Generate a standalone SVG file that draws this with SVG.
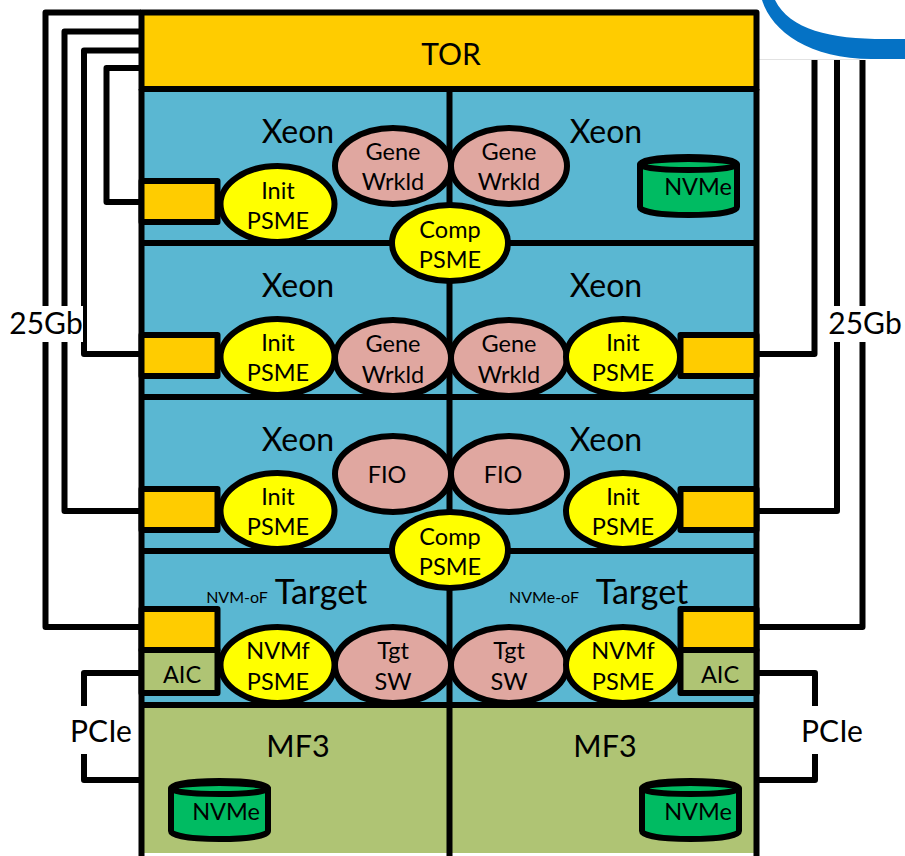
<svg xmlns="http://www.w3.org/2000/svg" width="905" height="856" viewBox="0 0 905 856">
<style>
text{font-family:"Lato","Carlito","Open Sans",sans-serif;fill:#000;text-anchor:middle}
.big{font-size:32px}
.tg{font-size:34px}
.mf{font-size:30.500px}
.mid{font-size:23.500px}
.sm{font-size:16px}
.lbl{font-size:30px}
.s{stroke:#000;stroke-width:6;stroke-linejoin:round}
.wire{fill:none;stroke:#000;stroke-width:6;stroke-linejoin:round}
.psme{fill:#ffff00}
.wl{fill:#e0a7a0}
.sq{fill:#ffcc00}
.aic{fill:#afc474}
.xeon{fill:#5ab7d2}
.nv{fill:#00bb62}
</style>
<defs>
<g id="cyl">
<path class="s nv" d="M0 7.500C0 3 22 0 48.500 0S97 3 97 7.500V50C97 55 75 58 48.500 58S0 55 0 50Z"/>
<ellipse class="s nv" cx="48.500" cy="7.500" rx="48.500" ry="5.500"/>
</g>
</defs>
<rect width="905" height="856" fill="#fff"/>
<g id="logo">
<path d="M762 0C772 32 810 59 872 59H905V39H885C830 39 790 30 775 0Z" fill="#0572c5"/>
<path d="M757 59.500H860" stroke="#e2e2e2" stroke-width="1" fill="none"/>
</g>
<g id="connectors">
<path class="wire" d="M141 12.500H45.500V627H141"/>
<path class="wire" d="M141 31.500H64.500V511H141"/>
<path class="wire" d="M141 50.500H84V354H141"/>
<path class="wire" d="M141 68H106.500V202H141"/>
<path class="wire" d="M757 354H814.500V60"/>
<path class="wire" d="M757 511H837V60"/>
<path class="wire" d="M757 627H862.500V60"/>
<path class="wire" d="M141 673H84V780H141"/>
<path class="wire" d="M757 673H815V780H757"/>
</g>
<g id="frame">
<rect id="xeon-bg" class="xeon" x="141.500" y="89" width="615" height="462"/>
<rect class="xeon" x="141.500" y="551" width="615" height="154"/>
<rect class="aic" x="141.500" y="705" width="615" height="148"/>
<rect class="s sq" x="141.500" y="12.500" width="615" height="76.500"/>
<path class="wire" d="M141.500 89V856M756.500 89V856M141.500 243H756.500M141.500 397H756.500M141.500 551H756.500M141.500 705H756.500M449.500 89V856"/>
</g>
<g id="tor"><text class="lbl" x="451" y="64.500">TOR</text></g>
<g id="labels">
<text class="big" x="298" y="143">Xeon</text>
<text class="big" x="606" y="143">Xeon</text>
<text class="big" x="298" y="297">Xeon</text>
<text class="big" x="606" y="297">Xeon</text>
<text class="big" x="298" y="451">Xeon</text>
<text class="big" x="606" y="451">Xeon</text>
<text class="tg" x="321" y="604">Target</text>
<text class="tg" x="642" y="604">Target</text>
<text class="sm" x="237" y="603">NVM-oF</text>
<text class="sm" x="544" y="603">NVMe-oF</text>
<text class="mf" x="298" y="757">MF3</text>
<text class="mf" x="605" y="757">MF3</text>
</g>
<g id="label-25gb-l"><rect x="10" y="306" width="73" height="36" fill="#fff"/><text class="lbl" x="46" y="334">25Gb</text></g>
<g id="label-25gb-r"><rect x="828" y="306" width="74" height="36" fill="#fff"/><text class="lbl" x="865" y="334">25Gb</text></g>
<g id="label-pcie-l"><rect x="70" y="706" width="64" height="48" fill="#fff"/><text class="lbl" x="101" y="742">PCIe</text></g>
<g id="label-pcie-r"><rect x="800" y="706" width="64" height="48" fill="#fff"/><text class="lbl" x="832" y="742">PCIe</text></g>
<g id="port-1"><rect class="s sq" x="141.500" y="181" width="76" height="41"/></g>
<g id="port-2"><rect class="s sq" x="141.500" y="335" width="76" height="41"/></g>
<g id="port-3"><rect class="s sq" x="141.500" y="489" width="76" height="41"/></g>
<g id="port-4"><rect class="s sq" x="141.500" y="609" width="76" height="41"/></g>
<g id="aic-l"><rect class="s aic" x="141.500" y="650" width="76" height="43"/><text class="mid" x="182" y="683">AIC</text></g>
<g id="port-5"><rect class="s sq" x="680.500" y="335" width="76" height="41"/></g>
<g id="port-6"><rect class="s sq" x="680.500" y="489" width="76" height="41"/></g>
<g id="port-7"><rect class="s sq" x="680.500" y="609" width="76" height="41"/></g>
<g id="aic-r"><rect class="s aic" x="680.500" y="650" width="76" height="43"/><text class="mid" x="720" y="683">AIC</text></g>
<g id="gene-1"><ellipse class="s wl" cx="393" cy="166" rx="58" ry="38"/><text class="mid" x="393" y="160">Gene</text><text class="mid" x="393" y="190">Wrkld</text></g>
<g id="gene-2"><ellipse class="s wl" cx="509" cy="166" rx="58" ry="38"/><text class="mid" x="509" y="160">Gene</text><text class="mid" x="509" y="190">Wrkld</text></g>
<g id="init-1"><ellipse class="s psme" cx="277.500" cy="204" rx="57" ry="38"/><text class="mid" x="278" y="199">Init</text><text class="mid" x="278" y="229">PSME</text></g>
<g id="comp-1"><ellipse class="s psme" cx="450" cy="243" rx="58" ry="38"/><text class="mid" x="450" y="238">Comp</text><text class="mid" x="450" y="268">PSME</text></g>
<g id="nvme-1"><use href="#cyl" x="640" y="157"/><text class="mid" x="698" y="195">NVMe</text></g>
<g id="gene-3"><ellipse class="s wl" cx="393" cy="358" rx="58" ry="38"/><text class="mid" x="393" y="352">Gene</text><text class="mid" x="393" y="383">Wrkld</text></g>
<g id="gene-4"><ellipse class="s wl" cx="509" cy="358" rx="58" ry="38"/><text class="mid" x="509" y="352">Gene</text><text class="mid" x="509" y="383">Wrkld</text></g>
<g id="init-2"><ellipse class="s psme" cx="277.500" cy="357" rx="57" ry="38"/><text class="mid" x="278" y="351">Init</text><text class="mid" x="278" y="381">PSME</text></g>
<g id="init-3"><ellipse class="s psme" cx="623" cy="357" rx="57" ry="38"/><text class="mid" x="623" y="351">Init</text><text class="mid" x="623" y="381">PSME</text></g>
<g id="fio-1"><ellipse class="s wl" cx="393" cy="474" rx="58" ry="38"/><text class="mid" x="387" y="483">FIO</text></g>
<g id="fio-2"><ellipse class="s wl" cx="509" cy="474" rx="58" ry="38"/><text class="mid" x="503" y="483">FIO</text></g>
<g id="init-4"><ellipse class="s psme" cx="277.500" cy="511" rx="57" ry="38"/><text class="mid" x="278" y="505">Init</text><text class="mid" x="278" y="535">PSME</text></g>
<g id="init-5"><ellipse class="s psme" cx="623" cy="511" rx="57" ry="38"/><text class="mid" x="623" y="505">Init</text><text class="mid" x="623" y="535">PSME</text></g>
<g id="comp-2"><ellipse class="s psme" cx="450" cy="550" rx="58" ry="38"/><text class="mid" x="450" y="545">Comp</text><text class="mid" x="450" y="575">PSME</text></g>
<g id="tgt-1"><ellipse class="s wl" cx="393" cy="665" rx="58" ry="38"/><text class="mid" x="393" y="659">Tgt</text><text class="mid" x="393" y="690">SW</text></g>
<g id="tgt-2"><ellipse class="s wl" cx="509" cy="665" rx="58" ry="38"/><text class="mid" x="509" y="659">Tgt</text><text class="mid" x="509" y="690">SW</text></g>
<g id="nvmf-1"><ellipse class="s psme" cx="277.500" cy="665" rx="57" ry="38"/><text class="mid" x="278" y="659">NVMf</text><text class="mid" x="278" y="690">PSME</text></g>
<g id="nvmf-2"><ellipse class="s psme" cx="623" cy="665" rx="57" ry="38"/><text class="mid" x="623" y="659">NVMf</text><text class="mid" x="623" y="690">PSME</text></g>
<g id="nvme-2"><use href="#cyl" x="171" y="781"/><text class="mid" x="226" y="820">NVMe</text></g>
<g id="nvme-3"><use href="#cyl" x="642" y="781"/><text class="mid" x="698" y="820">NVMe</text></g>
</svg>
